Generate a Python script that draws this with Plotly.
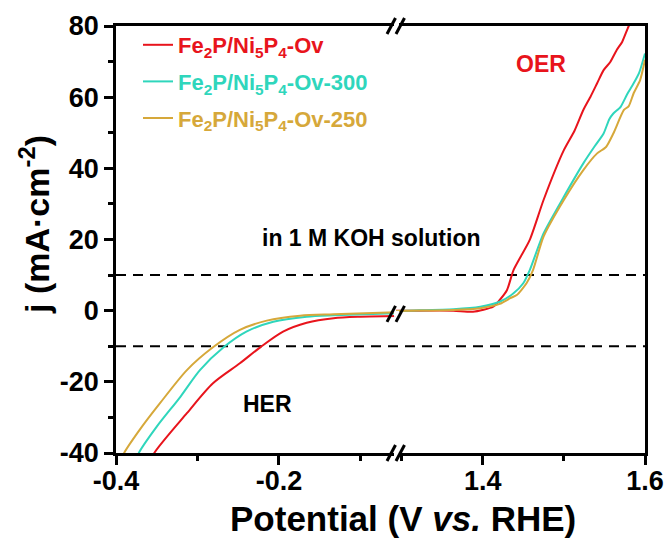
import plotly.graph_objects as go

# ---------------- data ----------------
# HER branch (left axis segment), potential in V vs. RHE, j in mA cm^-2
her_v_ov = [-0.356, -0.353, -0.313, -0.281, -0.248, -0.223, -0.195, -0.166, -0.133, -0.10, -0.05]
her_j_ov = [-42.0, -40.0, -28.8, -20.4, -14.8, -10.3, -5.9, -3.4, -2.1, -1.7, -1.5]

her_v_300 = [-0.375, -0.372, -0.350, -0.321, -0.297, -0.268, -0.240, -0.207, -0.166, -0.133, -0.05]
her_j_300 = [-42.0, -40.0, -32.6, -24.2, -16.7, -10.3, -5.9, -3.1, -1.7, -1.3, -0.7]

her_v_250 = [-0.393, -0.390, -0.371, -0.346, -0.313, -0.281, -0.248, -0.215, -0.174, -0.133, -0.05]
her_j_250 = [-42.0, -40.0, -33.5, -26.0, -16.7, -10.3, -5.4, -2.8, -1.4, -1.0, -0.4]

# OER branch (right axis segment)
oer_v_ov = [1.285, 1.306, 1.364, 1.388, 1.413, 1.421, 1.430, 1.438, 1.458, 1.475, 1.500, 1.513,
            1.524, 1.533, 1.541, 1.549, 1.557, 1.565, 1.572, 1.580, 1.590]
oer_j_ov = [0.0, 0.0, 0.0, -0.3, 1.1, 3.0, 5.8, 11.4, 19.9, 31.1, 45.1, 50.5,
            56.4, 60.2, 63.9, 67.6, 69.8, 73.2, 75.6, 80.0, 84.0]

oer_v_300 = [1.285, 1.306, 1.364, 1.397, 1.421, 1.438, 1.450, 1.458, 1.475, 1.500, 1.524, 1.538,
             1.549, 1.556, 1.561, 1.570, 1.578, 1.586, 1.593, 1.600]
oer_j_300 = [-0.2, 0.0, 0.4, 1.1, 2.5, 4.9, 7.7, 11.4, 21.7, 32.0, 41.4, 46.2,
             49.8, 53.8, 55.4, 57.3, 60.8, 63.9, 67.0, 72.3]

oer_v_250 = [1.285, 1.306, 1.364, 1.397, 1.421, 1.434, 1.442, 1.454, 1.462, 1.475, 1.500, 1.524,
             1.541, 1.552, 1.561, 1.574, 1.580, 1.586, 1.594, 1.600]
oer_j_250 = [-0.1, 0.0, 0.2, 0.7, 1.9, 3.5, 4.4, 7.7, 11.4, 20.8, 31.1, 39.5,
             44.2, 46.0, 49.8, 56.4, 57.5, 61.1, 64.8, 70.5]

series_names = ["Fe<sub>2</sub>P/Ni<sub>5</sub>P<sub>4</sub>-Ov",
                "Fe<sub>2</sub>P/Ni<sub>5</sub>P<sub>4</sub>-Ov-300",
                "Fe<sub>2</sub>P/Ni<sub>5</sub>P<sub>4</sub>-Ov-250"]
series_colors = ["#E8141C", "#2FD6BC", "#D6A83A"]

# axis ranges / ticks
x_left_range = [-0.4, -0.0564]
x_right_range = [1.2932, 1.6]
y_range = [-40, 80]
x_left_ticks = [-0.4, -0.2]
x_left_ticktext = ["-0.4", "-0.2"]
x_left_minor = [-0.3, -0.1]
x_right_ticks = [1.4, 1.6]
x_right_ticktext = ["1.4", "1.6"]
x_right_minor = [1.3, 1.5]
y_ticks = [-40, -20, 0, 20, 40, 60, 80]
y_ticktext = ["-40", "-20", "0", "20", "40", "60", "80"]
y_minor = [-30, -10, 10, 30, 50, 70]
ref_lines = [10, -10]

# ---------------- figure ----------------
FONT = "Liberation Sans"
D = 280 / 529.0  # domain split (axis break position)

her = [(her_v_ov, her_j_ov), (her_v_300, her_j_300), (her_v_250, her_j_250)]
oer = [(oer_v_ov, oer_j_ov), (oer_v_300, oer_j_300), (oer_v_250, oer_j_250)]

fig = go.Figure()
for i in range(3):
    name = "<span style='color:%s'><b>%s</b></span>" % (series_colors[i], series_names[i])
    fig.add_trace(go.Scatter(x=her[i][0], y=her[i][1], xaxis="x", yaxis="y", mode="lines",
                             line=dict(color=series_colors[i], width=2, shape="spline",
                                       smoothing=0.8),
                             name=name, legendgroup="g%d" % i, showlegend=True))
    fig.add_trace(go.Scatter(x=oer[i][0], y=oer[i][1], xaxis="x2", yaxis="y2", mode="lines",
                             line=dict(color=series_colors[i], width=2, shape="spline",
                                       smoothing=0.6),
                             name=name, legendgroup="g%d" % i, showlegend=False))

tickfont = dict(family=FONT, size=27, color="black", weight="bold")
common_x = dict(ticks="outside", ticklen=9, tickwidth=2.5, tickcolor="black",
                showline=True, linewidth=2.5, linecolor="black", mirror=True,
                showgrid=False, zeroline=False, tickfont=tickfont, anchor="y",
                automargin=False, ticklabelstandoff=-7)

fig.update_layout(
    template="none",
    width=668, height=539,
    margin=dict(l=116, r=23, t=26, b=86, autoexpand=False),
    paper_bgcolor="white", plot_bgcolor="white",
    font=dict(family=FONT, color="black"),
    xaxis=dict(domain=[0, D], range=x_left_range, tickmode="array",
               tickvals=x_left_ticks, ticktext=x_left_ticktext,
               minor=dict(tickmode="array", tickvals=x_left_minor, ticks="outside",
                          ticklen=5, tickwidth=2.5, tickcolor="black"),
               **common_x),
    xaxis2=dict(domain=[D, 1], range=x_right_range, tickmode="array",
                tickvals=x_right_ticks, ticktext=x_right_ticktext,
                minor=dict(tickmode="array", tickvals=x_right_minor, ticks="outside",
                           ticklen=5, tickwidth=2.5, tickcolor="black"),
                **dict(common_x, anchor="y2")),
    yaxis=dict(range=y_range, tickmode="array", tickvals=y_ticks, ticktext=y_ticktext,
               minor=dict(tickmode="array", tickvals=y_minor, ticks="outside",
                          ticklen=5, tickwidth=2.5, tickcolor="black"),
               ticks="outside", ticklen=9, tickwidth=2.5, tickcolor="black",
               showline=True, linewidth=2.5, linecolor="black", mirror=False,
               showgrid=False, zeroline=False, tickfont=tickfont, anchor="x",
               automargin=False),
    yaxis2=dict(range=y_range, matches="y", anchor="x2", side="right",
                showticklabels=False, ticks="", showline=True, linewidth=2.5,
                linecolor="black", showgrid=False, zeroline=False, automargin=False),
    legend=dict(x=(138 - 116) / 529.0, xanchor="left", y=(453 - 24) / 427.0, yanchor="top",
                bgcolor="rgba(0,0,0,0)", font=dict(family=FONT, size=22),
                traceorder="grouped", tracegroupgap=5),
    showlegend=True,
)

shapes = []
for yv in ref_lines:
    shapes.append(dict(type="line", xref="paper", yref="y", x0=0, x1=1, y0=yv, y1=yv,
                       line=dict(color="black", width=2, dash="10px,7px"), layer="below"))

# axis-break marks "//" (top axis, bottom axis and on the curves)
def break_marks(yref, yanchor):
    out = []
    out.append(dict(type="rect", xref="paper", xsizemode="pixel", xanchor=D, x0=-2, x1=3,
                    yref=yref, ysizemode="pixel", yanchor=yanchor, y0=-3, y1=3,
                    fillcolor="white", line=dict(width=0)))
    for dx in (-9, 0):
        out.append(dict(type="line", xref="paper", xsizemode="pixel", xanchor=D,
                        x0=dx, x1=dx + 8.5, yref=yref, ysizemode="pixel", yanchor=yanchor,
                        y0=-8, y1=8, line=dict(color="black", width=3)))
    return out

shapes += break_marks("paper", 1)
shapes += break_marks("paper", 0)
shapes += break_marks("y", -0.9)
fig.update_layout(shapes=shapes)

ann_font = dict(family=FONT, size=23, color="black")
fig.update_layout(annotations=[
    dict(text="<b>in 1 M KOH solution</b>", xref="paper", yref="paper",
         x=(371.7 - 116) / 529.0, y=(453 - 238) / 427.0, showarrow=False, font=ann_font),
    dict(text="<b>HER</b>", xref="paper", yref="paper",
         x=(241 - 116) / 529.0, y=(453 - 419) / 427.0, showarrow=False, font=ann_font),
    dict(text="<b>OER</b>", xref="paper", yref="paper",
         x=(567.5 - 116) / 529.0, y=(453 - 49) / 427.0, showarrow=False,
         font=dict(ann_font, color=series_colors[0])),
    dict(text="<b>Potential (V <i>vs.</i> RHE)</b>", xref="paper", yref="paper",
         x=(403 - 116) / 529.0, y=(453 - 518) / 427.0, showarrow=False,
         font=dict(family=FONT, size=35, color="black"), yanchor="middle"),
    dict(text="<b>j (mA·cm<sup>-2</sup>)</b>", xref="paper", yref="paper",
         x=(35 - 116) / 529.0, y=(453 - 225) / 427.0, showarrow=False, textangle=-90,
         font=dict(family=FONT, size=34, color="black"), xanchor="center", yanchor="middle"),
])

fig.write_html("out.html")
